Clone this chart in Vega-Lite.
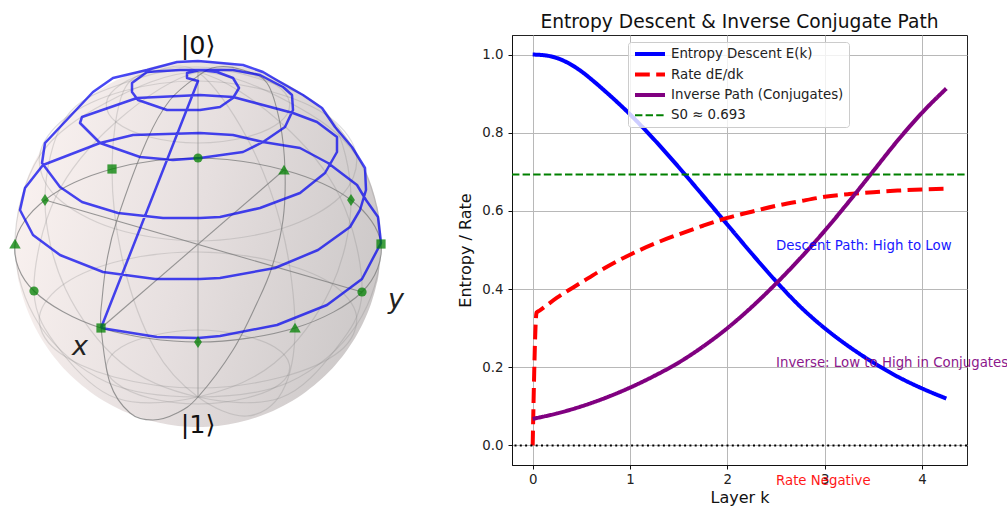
{
"$schema":"https://vega.github.io/schema/vega-lite/v6.json",
"padding":{"left":0,"right":0,"top":12,"bottom":0},
"background":"white",
"spacing":53,
"config":{"font":"DejaVu Sans","view":{"stroke":null},"title":{"font":"DejaVu Sans","fontSize":18.67,"fontWeight":"normal","color":"#111"}},
"datasets":{
"sphere":[{"x":15,"t":244,"b":244},{"x":17,"t":217,"b":271},{"x":20,"t":201.5,"b":286.5},{"x":24,"t":187.3,"b":300.7},{"x":30,"t":171.4,"b":316.6},{"x":38,"t":155.2,"b":332.8},{"x":48,"t":139.2,"b":348.8},{"x":60,"t":123.8,"b":364.2},{"x":74,"t":109.4,"b":378.6},{"x":90,"t":96.3,"b":391.7},{"x":108,"t":84.7,"b":403.3},{"x":128,"t":74.9,"b":413.1},{"x":148,"t":68,"b":420},{"x":168,"t":63.5,"b":424.5},{"x":188,"t":61.3,"b":426.7},{"x":198,"t":61,"b":427},{"x":208,"t":61.3,"b":426.7},{"x":228,"t":63.5,"b":424.5},{"x":248,"t":68,"b":420},{"x":268,"t":74.9,"b":413.1},{"x":288,"t":84.7,"b":403.3},{"x":306,"t":96.3,"b":391.7},{"x":322,"t":109.4,"b":378.6},{"x":336,"t":123.8,"b":364.2},{"x":348,"t":139.2,"b":348.8},{"x":358,"t":155.2,"b":332.8},{"x":366,"t":171.4,"b":316.6},{"x":372,"t":187.3,"b":300.7},{"x":376,"t":201.5,"b":286.5},{"x":379,"t":217,"b":271},{"x":381,"t":244,"b":244}],
"lat":[
{"lat":30,"lon":0,"x":114,"y":228.5},{"lat":30,"lon":30,"x":198,"y":241},{"lat":30,"lon":60,"x":282,"y":228.5},{"lat":30,"lon":90,"x":340,"y":197},{"lat":30,"lon":120,"x":356.5,"y":156},{"lat":30,"lon":150,"x":330.5,"y":118},{"lat":30,"lon":180,"x":272.5,"y":92},{"lat":30,"lon":210,"x":198,"y":81},{"lat":30,"lon":240,"x":123.5,"y":91},{"lat":30,"lon":270,"x":65.5,"y":118},{"lat":30,"lon":300,"x":39.5,"y":156},{"lat":30,"lon":330,"x":56,"y":196.5},
{"lat":60,"lon":0,"x":149.5,"y":137},{"lat":60,"lon":30,"x":198,"y":143},{"lat":60,"lon":60,"x":246.5,"y":137},{"lat":60,"lon":90,"x":280,"y":122},{"lat":60,"lon":120,"x":289.5,"y":102.5},{"lat":60,"lon":150,"x":274.5,"y":84},{"lat":60,"lon":180,"x":241,"y":72},{"lat":60,"lon":210,"x":198,"y":67},{"lat":60,"lon":240,"x":155,"y":71},{"lat":60,"lon":270,"x":121.5,"y":84},{"lat":60,"lon":300,"x":106.5,"y":102.5},{"lat":60,"lon":330,"x":116,"y":122},
{"lat":-30,"lon":0,"x":114,"y":377},{"lat":-30,"lon":30,"x":198,"y":388},{"lat":-30,"lon":60,"x":282,"y":377},{"lat":-30,"lon":90,"x":340,"y":351},{"lat":-30,"lon":120,"x":356.5,"y":316},{"lat":-30,"lon":150,"x":330.5,"y":283},{"lat":-30,"lon":180,"x":272.5,"y":261},{"lat":-30,"lon":210,"x":198,"y":252},{"lat":-30,"lon":240,"x":123.5,"y":260},{"lat":-30,"lon":270,"x":65.5,"y":283},{"lat":-30,"lon":300,"x":39.5,"y":316},{"lat":-30,"lon":330,"x":56,"y":350},
{"lat":-60,"lon":0,"x":149.5,"y":398},{"lat":-60,"lon":30,"x":198,"y":404},{"lat":-60,"lon":60,"x":246.5,"y":398},{"lat":-60,"lon":90,"x":280,"y":384},{"lat":-60,"lon":120,"x":289.5,"y":365},{"lat":-60,"lon":150,"x":274.5,"y":347},{"lat":-60,"lon":180,"x":241,"y":335},{"lat":-60,"lon":210,"x":198,"y":330},{"lat":-60,"lon":240,"x":155,"y":335},{"lat":-60,"lon":270,"x":121.5,"y":347},{"lat":-60,"lon":300,"x":106.5,"y":365},{"lat":-60,"lon":330,"x":116,"y":383}
],
"merid":[
{"m":60,"s":0,"x":198,"y":72},{"m":60,"s":1,"x":246.5,"y":137},{"m":60,"s":2,"x":282,"y":228.5},{"m":60,"s":3,"x":295,"y":328},{"m":60,"s":4,"x":282,"y":392},{"m":60,"s":5,"x":246.5,"y":416},{"m":60,"s":6,"x":198,"y":397},{"m":60,"s":7,"x":155,"y":349},{"m":60,"s":8,"x":123.5,"y":264},{"m":60,"s":9,"x":112,"y":169},{"m":60,"s":10,"x":123.5,"y":91},{"m":60,"s":11,"x":155,"y":71},
{"m":90,"s":0,"x":198,"y":72},{"m":90,"s":1,"x":280,"y":122},{"m":90,"s":2,"x":340,"y":197},{"m":90,"s":3,"x":362,"y":292},{"m":90,"s":4,"x":335,"y":350},{"m":90,"s":5,"x":280,"y":398},{"m":90,"s":6,"x":198,"y":397},{"m":90,"s":7,"x":121.5,"y":363},{"m":90,"s":8,"x":65.5,"y":289},{"m":90,"s":9,"x":45,"y":200},{"m":90,"s":10,"x":65.5,"y":118},{"m":90,"s":11,"x":121.5,"y":84},
{"m":120,"s":0,"x":198,"y":72},{"m":120,"s":1,"x":289.5,"y":102.5},{"m":120,"s":2,"x":356.5,"y":156},{"m":120,"s":3,"x":381,"y":244},{"m":120,"s":4,"x":356.5,"y":325},{"m":120,"s":5,"x":289.5,"y":382},{"m":120,"s":6,"x":198,"y":397},{"m":120,"s":7,"x":106.5,"y":382},{"m":120,"s":8,"x":39.5,"y":325},{"m":120,"s":9,"x":15,"y":244},{"m":120,"s":10,"x":39.5,"y":156},{"m":120,"s":11,"x":106.5,"y":102.5},
{"m":150,"s":0,"x":198,"y":72},{"m":150,"s":1,"x":274.5,"y":84},{"m":150,"s":2,"x":330.5,"y":118},{"m":150,"s":3,"x":351,"y":200},{"m":150,"s":4,"x":330.5,"y":289},{"m":150,"s":5,"x":274.5,"y":363},{"m":150,"s":6,"x":198,"y":397},{"m":150,"s":7,"x":116,"y":398},{"m":150,"s":8,"x":60,"y":350},{"m":150,"s":9,"x":34,"y":291},{"m":150,"s":10,"x":56,"y":196.5},{"m":150,"s":11,"x":116,"y":122}
],
"frame":[
{"c":"equator","s":0,"x":101,"y":328},{"c":"equator","s":1,"x":198,"y":342},{"c":"equator","s":2,"x":295,"y":328},{"c":"equator","s":3,"x":362,"y":292},{"c":"equator","s":4,"x":381,"y":244},{"c":"equator","s":5,"x":351,"y":200},{"c":"equator","s":6,"x":284,"y":170},{"c":"equator","s":7,"x":198,"y":158},{"c":"equator","s":8,"x":112,"y":169},{"c":"equator","s":9,"x":45,"y":200},{"c":"equator","s":10,"x":15,"y":244},{"c":"equator","s":11,"x":34,"y":291},
{"c":"meridian","s":0,"x":198,"y":76},{"c":"meridian","s":1,"x":170,"y":100},{"c":"meridian","s":2,"x":147,"y":140},{"c":"meridian","s":3,"x":117,"y":220},{"c":"meridian","s":4,"x":107,"y":260},{"c":"meridian","s":5,"x":102,"y":300},{"c":"meridian","s":6,"x":101,"y":327},{"c":"meridian","s":7,"x":110,"y":383},{"c":"meridian","s":8,"x":130,"y":413},{"c":"meridian","s":9,"x":153,"y":420},{"c":"meridian","s":10,"x":177,"y":413},{"c":"meridian","s":11,"x":198,"y":397},{"c":"meridian","s":12,"x":233,"y":350},{"c":"meridian","s":13,"x":257,"y":303},{"c":"meridian","s":14,"x":272,"y":267},{"c":"meridian","s":15,"x":283,"y":220},{"c":"meridian","s":16,"x":285,"y":170},{"c":"meridian","s":17,"x":280,"y":123},{"c":"meridian","s":18,"x":267,"y":83},{"c":"meridian","s":19,"x":243,"y":70},{"c":"meridian","s":20,"x":217,"y":67}
],
"axes3d":[
{"a":"x","x":101,"y":328},{"a":"x","x":284,"y":170},
{"a":"y","x":362,"y":292},{"a":"y","x":45,"y":200},
{"a":"z","x":198,"y":72},{"a":"z","x":198,"y":397}
],
"spiral":[
{"s":0,"x":101,"y":328},{"s":1,"x":157,"y":337},{"s":2,"x":198,"y":338},{"s":3,"x":220,"y":336},{"s":4,"x":277,"y":325},{"s":5,"x":327,"y":305},{"s":6,"x":362,"y":279},{"s":7,"x":381,"y":243},{"s":8,"x":378,"y":217},{"s":9,"x":366,"y":200},{"s":10,"x":357,"y":185},{"s":11,"x":328,"y":163},{"s":12,"x":300,"y":148},{"s":13,"x":263,"y":142},{"s":14,"x":233,"y":135},{"s":15,"x":200,"y":133},{"s":16,"x":133,"y":135},{"s":17,"x":100,"y":143},{"s":18,"x":43,"y":165},{"s":19,"x":25,"y":188},{"s":20,"x":20,"y":210},{"s":21,"x":33,"y":235},{"s":22,"x":60,"y":255},{"s":23,"x":103,"y":272},{"s":24,"x":155,"y":279},{"s":25,"x":200,"y":279},{"s":26,"x":220,"y":278},{"s":27,"x":275,"y":268},{"s":28,"x":318,"y":250},{"s":29,"x":350,"y":227},{"s":30,"x":360,"y":210},{"s":31,"x":366,"y":190},{"s":32,"x":365,"y":168},{"s":33,"x":352,"y":147},{"s":34,"x":335,"y":127},{"s":35,"x":322,"y":108},{"s":36,"x":303,"y":95},{"s":37,"x":280,"y":82},{"s":38,"x":263,"y":72},{"s":39,"x":243,"y":65},{"s":40,"x":210,"y":62},{"s":41,"x":198,"y":61},{"s":42,"x":177,"y":62},{"s":43,"x":147,"y":70},{"s":44,"x":113,"y":78},{"s":45,"x":93,"y":92},{"s":46,"x":45,"y":143},{"s":47,"x":42,"y":163},{"s":48,"x":60,"y":187},{"s":49,"x":82,"y":202},{"s":50,"x":118,"y":213},{"s":51,"x":163,"y":218},{"s":52,"x":200,"y":218},{"s":53,"x":220,"y":217},{"s":54,"x":260,"y":208},{"s":55,"x":300,"y":193},{"s":56,"x":325,"y":173},{"s":57,"x":337,"y":152},{"s":58,"x":337,"y":137},{"s":59,"x":317,"y":122},{"s":60,"x":293,"y":113},{"s":61,"x":233,"y":97},{"s":62,"x":200,"y":95},{"s":63,"x":137,"y":98},{"s":64,"x":82,"y":117},{"s":65,"x":80,"y":123},{"s":66,"x":100,"y":143},{"s":67,"x":140,"y":157},{"s":68,"x":173,"y":160},{"s":69,"x":200,"y":158},{"s":70,"x":243,"y":152},{"s":71,"x":263,"y":142},{"s":72,"x":285,"y":127},{"s":73,"x":293,"y":110},{"s":74,"x":292,"y":95},{"s":75,"x":283,"y":87},{"s":76,"x":260,"y":75},{"s":77,"x":233,"y":70},{"s":78,"x":200,"y":70},{"s":79,"x":180,"y":70},{"s":80,"x":147,"y":72},{"s":81,"x":132,"y":83},{"s":82,"x":132,"y":92},{"s":83,"x":138,"y":100},{"s":84,"x":167,"y":110},{"s":85,"x":200,"y":110},{"s":86,"x":220,"y":107},{"s":87,"x":233,"y":98},{"s":88,"x":239,"y":88},{"s":89,"x":233,"y":78},{"s":90,"x":217,"y":72},{"s":91,"x":200,"y":70},{"s":92,"x":187,"y":73},{"s":93,"x":187,"y":78},{"s":94,"x":198,"y":81},{"s":95,"x":101,"y":328}
],
"states":[
{"kind":"square","x":101,"y":328},{"kind":"diamond","x":198,"y":342},{"kind":"triangle","x":295,"y":328},{"kind":"circle","x":362,"y":292},{"kind":"square","x":381,"y":244},{"kind":"diamond","x":351,"y":200},{"kind":"triangle","x":284,"y":170},{"kind":"circle","x":198,"y":158},{"kind":"square","x":112,"y":169},{"kind":"diamond","x":45,"y":200},{"kind":"triangle","x":15,"y":244},{"kind":"circle","x":34,"y":291}
],
"sphereLabels":[
{"label":"|0⟩","x":198,"y":54},{"label":"|1⟩","x":198,"y":433}
],
"axisLabels":[
{"label":"x","x":80,"y":355},{"label":"y","x":396,"y":308}
],
"curves":[
{"series":"Entropy Descent E(k)","k":0,"v":1.0},{"series":"Entropy Descent E(k)","k":0.125,"v":0.998},{"series":"Entropy Descent E(k)","k":0.25,"v":0.991},{"series":"Entropy Descent E(k)","k":0.375,"v":0.977},{"series":"Entropy Descent E(k)","k":0.5,"v":0.957},{"series":"Entropy Descent E(k)","k":0.625,"v":0.932},{"series":"Entropy Descent E(k)","k":0.75,"v":0.905},{"series":"Entropy Descent E(k)","k":1,"v":0.847},{"series":"Entropy Descent E(k)","k":1.25,"v":0.782},{"series":"Entropy Descent E(k)","k":1.5,"v":0.712},{"series":"Entropy Descent E(k)","k":1.75,"v":0.639},{"series":"Entropy Descent E(k)","k":2,"v":0.565},{"series":"Entropy Descent E(k)","k":2.25,"v":0.491},{"series":"Entropy Descent E(k)","k":2.5,"v":0.42},{"series":"Entropy Descent E(k)","k":2.75,"v":0.355},{"series":"Entropy Descent E(k)","k":3,"v":0.3},{"series":"Entropy Descent E(k)","k":3.25,"v":0.253},{"series":"Entropy Descent E(k)","k":3.5,"v":0.212},{"series":"Entropy Descent E(k)","k":3.75,"v":0.176},{"series":"Entropy Descent E(k)","k":4,"v":0.146},{"series":"Entropy Descent E(k)","k":4.25,"v":0.12},
{"series":"Rate dE/dk","k":0,"v":0},{"series":"Rate dE/dk","k":0.04,"v":0.34},{"series":"Rate dE/dk","k":0.07,"v":0.345},{"series":"Rate dE/dk","k":0.25,"v":0.378},{"series":"Rate dE/dk","k":0.5,"v":0.417},{"series":"Rate dE/dk","k":0.75,"v":0.455},{"series":"Rate dE/dk","k":1,"v":0.488},{"series":"Rate dE/dk","k":1.25,"v":0.516},{"series":"Rate dE/dk","k":1.5,"v":0.54},{"series":"Rate dE/dk","k":1.75,"v":0.562},{"series":"Rate dE/dk","k":2,"v":0.582},{"series":"Rate dE/dk","k":2.25,"v":0.598},{"series":"Rate dE/dk","k":2.5,"v":0.613},{"series":"Rate dE/dk","k":2.75,"v":0.625},{"series":"Rate dE/dk","k":3,"v":0.636},{"series":"Rate dE/dk","k":3.25,"v":0.643},{"series":"Rate dE/dk","k":3.5,"v":0.648},{"series":"Rate dE/dk","k":3.75,"v":0.652},{"series":"Rate dE/dk","k":4,"v":0.655},{"series":"Rate dE/dk","k":4.25,"v":0.657},
{"series":"Inverse Path (Conjugates)","k":0,"v":0.068},{"series":"Inverse Path (Conjugates)","k":0.25,"v":0.082},{"series":"Inverse Path (Conjugates)","k":0.5,"v":0.1},{"series":"Inverse Path (Conjugates)","k":0.75,"v":0.122},{"series":"Inverse Path (Conjugates)","k":1,"v":0.148},{"series":"Inverse Path (Conjugates)","k":1.25,"v":0.178},{"series":"Inverse Path (Conjugates)","k":1.5,"v":0.212},{"series":"Inverse Path (Conjugates)","k":1.75,"v":0.253},{"series":"Inverse Path (Conjugates)","k":2,"v":0.3},{"series":"Inverse Path (Conjugates)","k":2.25,"v":0.354},{"series":"Inverse Path (Conjugates)","k":2.5,"v":0.414},{"series":"Inverse Path (Conjugates)","k":2.75,"v":0.479},{"series":"Inverse Path (Conjugates)","k":3,"v":0.549},{"series":"Inverse Path (Conjugates)","k":3.25,"v":0.624},{"series":"Inverse Path (Conjugates)","k":3.5,"v":0.702},{"series":"Inverse Path (Conjugates)","k":3.75,"v":0.78},{"series":"Inverse Path (Conjugates)","k":4,"v":0.851},{"series":"Inverse Path (Conjugates)","k":4.25,"v":0.913},
{"series":"S0 ≈ 0.693","k":-0.2125,"v":0.693},{"series":"S0 ≈ 0.693","k":4.4625,"v":0.693}
],
"notes":[
{"note":"Descent Path: High to Low","tone":"descent","k":2.5,"v":0.5},
{"note":"Inverse: Low to High in Conjugates","tone":"inverse","k":2.5,"v":0.2},
{"note":"Rate Negative","tone":"rate","k":2.5,"v":-0.1}
],
"zero":[{"v":0}]
},
"hconcat":[
{
"width":400,"height":430,
"encoding":{
"x":{"field":"x","type":"quantitative","axis":null,"scale":{"domain":[0,400],"nice":false,"zero":false}},
"y":{"field":"y","type":"quantitative","axis":null,"scale":{"domain":[465,35],"nice":false,"zero":false}}
},
"layer":[
{"data":{"name":"sphere"},"mark":{"type":"area","interpolate":"monotone","clip":false,"fill":{"gradient":"linear","x1":0,"y1":0.3,"x2":1,"y2":0.55,"stops":[{"offset":0,"color":"#faf2f0"},{"offset":0.5,"color":"#e6dfdf"},{"offset":1,"color":"#cdc9c9"}]}},"encoding":{"y":{"field":"t","type":"quantitative"},"y2":{"field":"b"}}},
{"data":{"name":"lat"},"mark":{"type":"line","interpolate":"cardinal-closed","stroke":"#808080","strokeOpacity":0.25,"strokeWidth":1.2},"encoding":{"detail":{"field":"lat"},"order":{"field":"lon"}}},
{"data":{"name":"merid"},"mark":{"type":"line","interpolate":"cardinal-closed","stroke":"#808080","strokeOpacity":0.25,"strokeWidth":1.2},"encoding":{"detail":{"field":"m"},"order":{"field":"s"}}},
{"data":{"name":"axes3d"},"transform":[{"filter":"datum.a !== 'z'"}],"mark":{"type":"line","stroke":"#7f7f7f","strokeOpacity":0.8,"strokeWidth":1.1},"encoding":{"detail":{"field":"a"}}},
{"data":{"name":"axes3d"},"transform":[{"filter":"datum.a === 'z'"}],"mark":{"type":"line","stroke":"#8f8f8f","strokeOpacity":0.6,"strokeWidth":1.2},"encoding":{"detail":{"field":"a"}}},
{"data":{"name":"frame"},"mark":{"type":"line","interpolate":"cardinal-closed","stroke":"#7f7f7f","strokeOpacity":0.8,"strokeWidth":1.1},"encoding":{"detail":{"field":"c"},"order":{"field":"s"}}},
{"data":{"name":"spiral"},"mark":{"type":"line","stroke":"#0000ee","strokeOpacity":0.72,"strokeWidth":2.5,"strokeJoin":"round"},"encoding":{"order":{"field":"s"}}},
{"data":{"name":"states"},"mark":{"type":"point","filled":true,"size":85,"fill":"#008000","opacity":0.75,"strokeWidth":0},"encoding":{"shape":{"field":"kind","type":"nominal","legend":null,"scale":{"domain":["circle","square","diamond","triangle"],"range":["circle","square","M0,-1.3L0.85,0L0,1.3L-0.85,0Z","M0,-1.15L1.25,1L-1.25,1Z"]}}}},
{"data":{"name":"sphereLabels"},"mark":{"type":"text","font":"DejaVu Sans","fontSize":25.5,"align":"center","baseline":"alphabetic","fill":"#111"},"encoding":{"text":{"field":"label"}}},
{"data":{"name":"axisLabels"},"mark":{"type":"text","font":"DejaVu Sans","fontSize":27,"fontStyle":"italic","align":"center","baseline":"alphabetic","fill":"#222"},"encoding":{"text":{"field":"label"}}}
]
},
{
"width":455,"height":430,
"view":{"stroke":"#222","strokeWidth":1},
"title":{"text":"Entropy Descent & Inverse Conjugate Path","offset":3.5},
"layer":[
{"data":{"name":"curves"},"mark":{"type":"line","interpolate":"monotone","strokeCap":"butt"},
"encoding":{
"x":{"field":"k","type":"quantitative","title":"Layer k","scale":{"domain":[-0.2125,4.4625],"nice":false,"zero":false},"axis":{"values":[0,1,2,3,4],"format":"d","grid":true,"gridColor":"#b8b8b8","gridWidth":1,"tickColor":"#111","tickSize":4,"domainColor":"#111","labelFontSize":13.33,"labelColor":"#222","labelPadding":3,"titleFontSize":16,"titleFontWeight":"normal","titleColor":"#111","titlePadding":4}},
"y":{"field":"v","type":"quantitative","title":"Entropy / Rate","scale":{"domain":[-0.05,1.05],"nice":false,"zero":false},"axis":{"values":[0,0.2,0.4,0.6,0.8,1],"format":".1f","grid":true,"gridColor":"#b8b8b8","gridWidth":1,"tickColor":"#111","tickSize":4,"domainColor":"#111","labelFontSize":13.33,"labelColor":"#222","labelPadding":5,"titleFontSize":16,"titleFontWeight":"normal","titleColor":"#111","titlePadding":8}},
"color":{"field":"series","type":"nominal","scale":{"domain":["Entropy Descent E(k)","Rate dE/dk","Inverse Path (Conjugates)","S0 ≈ 0.693"],"range":["#0000ff","#ff0000","#800080","#008000"]},"legend":{"title":null,"orient":"none","legendX":628,"legendY":7,"symbolType":"M-1,0H5","symbolSize":100,"labelFontSize":13.33,"labelColor":"#222","labelLimit":300,"labelOffset":24,"rowPadding":4.5,"padding":5,"fillColor":"rgba(255,255,255,0.8)","strokeColor":"#cccccc","cornerRadius":3}},
"strokeDash":{"field":"series","type":"nominal","scale":{"domain":["Entropy Descent E(k)","Rate dE/dk","Inverse Path (Conjugates)","S0 ≈ 0.693"],"range":[[1,0],[14.8,6.4],[1,0],[7.4,3.2]]},"legend":{"title":null,"orient":"none","legendX":628,"legendY":7,"symbolType":"M-1,0H5","symbolSize":100,"labelFontSize":13.33,"labelColor":"#222","labelLimit":300,"labelOffset":24,"rowPadding":4.5,"padding":5,"fillColor":"rgba(255,255,255,0.8)","strokeColor":"#cccccc","cornerRadius":3}},
"strokeWidth":{"field":"series","type":"nominal","scale":{"type":"ordinal","domain":["Entropy Descent E(k)","Rate dE/dk","Inverse Path (Conjugates)","S0 ≈ 0.693"],"range":[4,4,4,2]},"legend":{"title":null,"orient":"none","legendX":628,"legendY":7,"symbolType":"M-1,0H5","symbolSize":100,"labelFontSize":13.33,"labelColor":"#222","labelLimit":300,"labelOffset":24,"rowPadding":4.5,"padding":5,"fillColor":"rgba(255,255,255,0.8)","strokeColor":"#cccccc","cornerRadius":3}}
}},
{"data":{"name":"zero"},"mark":{"type":"rule","stroke":"#000","strokeWidth":2,"strokeDash":[2,3.3]},"encoding":{"y":{"field":"v","type":"quantitative"}}},
{"data":{"name":"notes"},"transform":[{"filter":"datum.tone === 'descent'"}],"mark":{"type":"text","font":"DejaVu Sans","fontSize":13.33,"align":"left","baseline":"alphabetic","fill":"#0000ff","opacity":0.9,"clip":false},"encoding":{"x":{"field":"k","type":"quantitative"},"y":{"field":"v","type":"quantitative"},"text":{"field":"note"}}},
{"data":{"name":"notes"},"transform":[{"filter":"datum.tone === 'inverse'"}],"mark":{"type":"text","font":"DejaVu Sans","fontSize":13.33,"align":"left","baseline":"alphabetic","fill":"#800080","opacity":0.9,"clip":false},"encoding":{"x":{"field":"k","type":"quantitative"},"y":{"field":"v","type":"quantitative"},"text":{"field":"note"}}},
{"data":{"name":"notes"},"transform":[{"filter":"datum.tone === 'rate'"}],"mark":{"type":"text","font":"DejaVu Sans","fontSize":13.33,"align":"left","baseline":"alphabetic","fill":"#ff0000","opacity":0.9,"clip":false},"encoding":{"x":{"field":"k","type":"quantitative"},"y":{"field":"v","type":"quantitative"},"text":{"field":"note"}}}
]
}
]
}
